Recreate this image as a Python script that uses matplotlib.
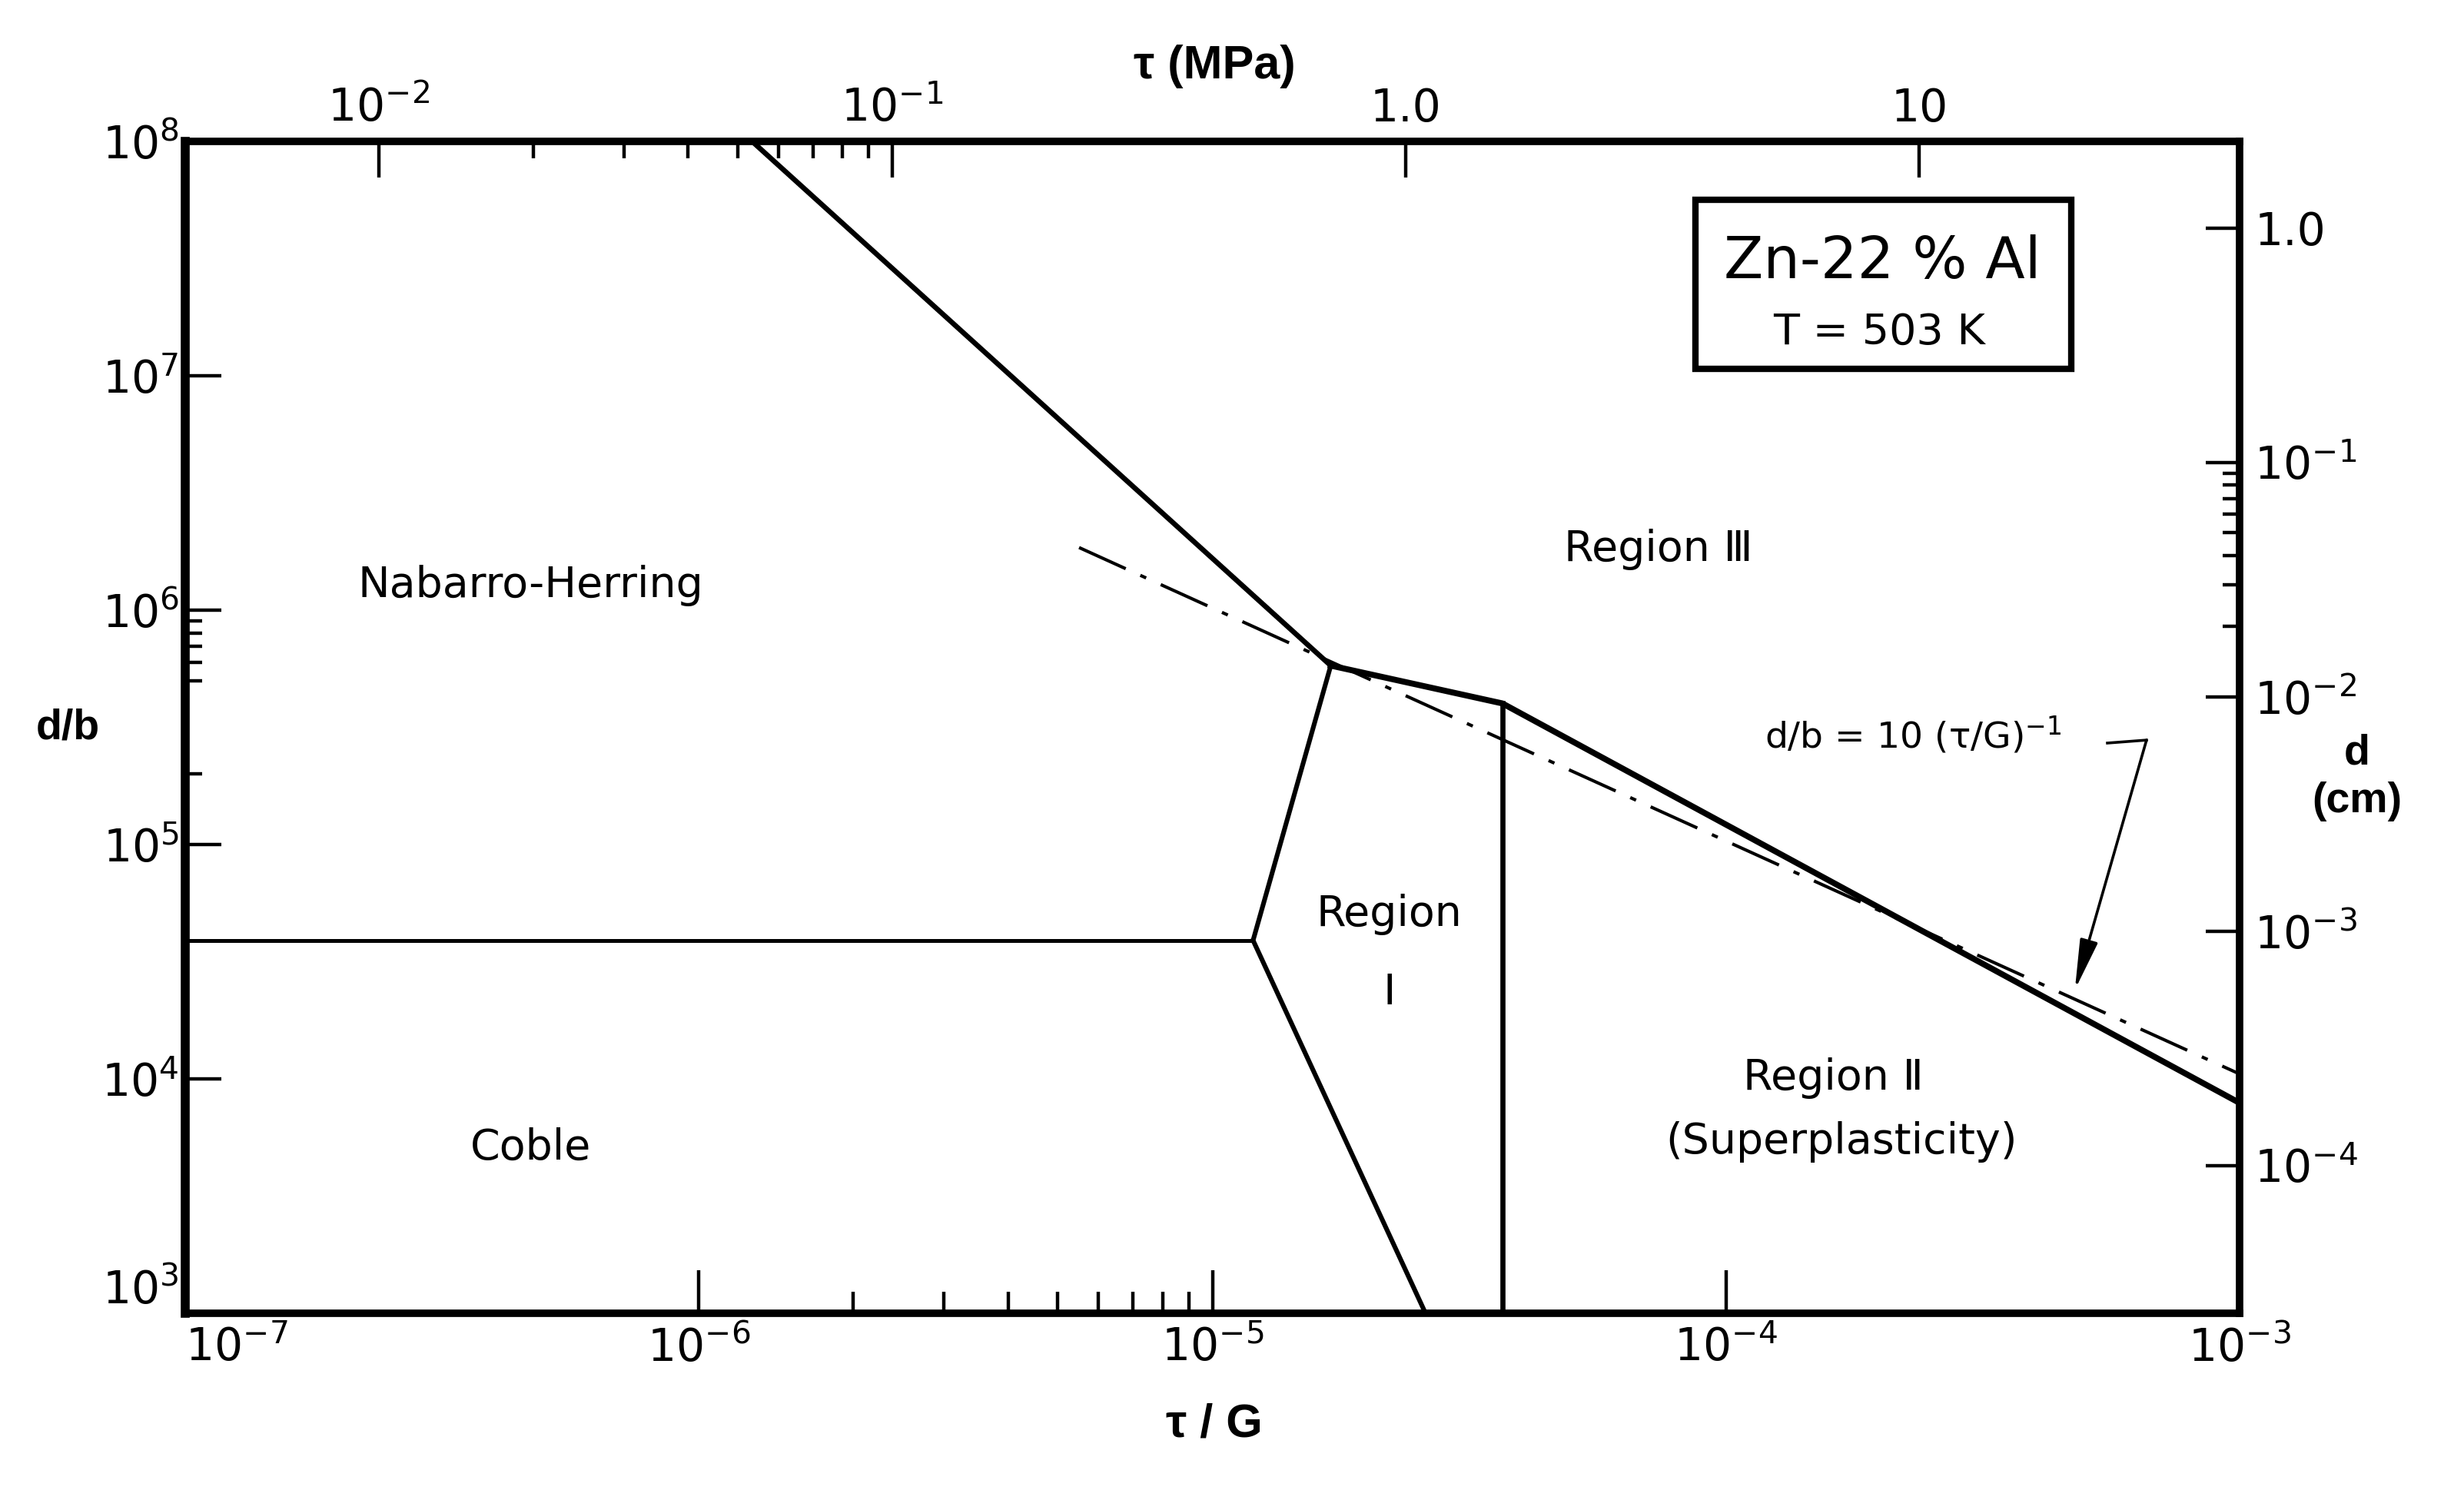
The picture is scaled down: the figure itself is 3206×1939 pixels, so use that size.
import numpy as np
import matplotlib
matplotlib.use('Agg')
import matplotlib.pyplot as plt
from matplotlib.patches import Rectangle

# %% Data: tau/G on x, d/b on y.
G_MPA = 4.2e4      # shear modulus used for the top scale, MPa
B_CM = 2.34e-8     # Burgers vector used for the right scale, cm

# Boundary lines:
nh_x = [1.27e-6, 1.7e-5]
nh_y = [1e8, 5.8e5]
r23_x = [1.7e-5, 3.67e-5, 1e-3]
r23_y = [5.8e5, 4.0e5, 7.9e3]
coble_x = [1e-7, 1.2e-5]
coble_y = [3.9e4, 3.9e4]
r1_left_x = [1.2e-5, 1.7e-5]
r1_left_y = [3.9e4, 5.8e5]
r1_low_x = [1.2e-5, 2.6e-5]
r1_low_y = [3.9e4, 1e3]
r12_x = [3.67e-5, 3.67e-5]
r12_y = [4.0e5, 1e3]
# d/b = 10 (tau/G)^-1 reference line:
ref_x = [5.5e-6, 1e-3]
ref_y = [1.85e6, 1.05e4]

# Region labels:
reg_text = ['Nabarro-Herring', 'Coble', 'Region \u2162', 'Region', '\u2160',
            'Region \u2161', '(Superplasticity)']
reg_x = [4.7e-7, 4.7e-7, 7.4e-5, 2.21e-5, 2.21e-5, 1.62e-4, 1.68e-4]
reg_y = [1.27e6, 5.06e3, 1.81e6, 5.04e4, 2.33e4, 1.01e4, 5.4e3]

# Ticks:
x_major = [1e-7, 1e-6, 1e-5, 1e-4, 1e-3]
x_labels = ['$10^{-7}$', '$10^{-6}$', '$10^{-5}$', '$10^{-4}$', '$10^{-3}$']
x_minor = [2e-6, 3e-6, 4e-6, 5e-6, 6e-6, 7e-6, 8e-6, 9e-6]
y_major = [1e3, 1e4, 1e5, 1e6, 1e7, 1e8]
y_labels = ['$10^{3}$', '$10^{4}$', '$10^{5}$', '$10^{6}$', '$10^{7}$', '$10^{8}$']
y_minor = [2e5, 5e5, 6e5, 7e5, 8e5, 9e5]
tau_major = [1e-2, 1e-1, 1.0, 10.0]
tau_labels = ['$10^{-2}$', '$10^{-1}$', '1.0', '10']
tau_minor = [2e-2, 3e-2, 4e-2, 5e-2, 6e-2, 7e-2, 8e-2, 9e-2]
d_major = [1.0, 1e-1, 1e-2, 1e-3, 1e-4]
d_labels = ['1.0', '$10^{-1}$', '$10^{-2}$', '$10^{-3}$', '$10^{-4}$']
d_minor = [2e-2, 3e-2, 4e-2, 5e-2, 6e-2, 7e-2, 8e-2, 9e-2]

# %% Figure.
plt.rcParams['font.family'] = ['DejaVu Sans']
plt.rcParams['mathtext.fontset'] = 'dejavusans'
fig = plt.figure(figsize=(16.03, 9.695), dpi=200)
ax = fig.add_axes([0.0752, 0.1186, 0.8337, 0.7865])
ax.set_xscale('log')
ax.set_yscale('log')
ax.set_xlim(1e-7, 1e-3)
ax.set_ylim(1e3, 1e8)

# Boundaries:
ax.plot(nh_x, nh_y, color='k', lw=2.4, solid_capstyle='round')
ax.plot(r23_x, r23_y, color='k', lw=2.8, solid_joinstyle='round')
ax.plot(coble_x, coble_y, color='k', lw=1.8)
ax.plot(r1_left_x, r1_left_y, color='k', lw=2.2)
ax.plot(r1_low_x, r1_low_y, color='k', lw=2.2)
ax.plot(r12_x, r12_y, color='k', lw=2.4)
ax.plot(ref_x, ref_y, color='k', lw=1.5, dashes=(16, 5, 2, 5))

# Region labels:
for t, x, y in zip(reg_text, reg_x, reg_y):
    ax.text(x, y, t, fontsize=20, ha='center', va='center')

# Annotation of the reference line:
ax.text(1.19e-4, 2.93e5, 'd/b = 10 (\u03c4/G)$^{-1}$', fontsize=17,
        ha='left', va='center')
ax.plot([5.53e-4, 6.59e-4], [2.71e5, 2.79e5], color='k', lw=1.3)
ax.annotate('', xy=(4.78e-4, 2.4e4), xytext=(6.59e-4, 2.79e5),
            arrowprops=dict(arrowstyle='-|>,head_length=1.0,head_width=0.18',
                            color='k', lw=1.3, mutation_scale=20,
                            shrinkA=0, shrinkB=0))

# Alloy box:
ax.add_patch(Rectangle((0.735, 0.806), 0.183, 0.144, transform=ax.transAxes,
                       fill=False, lw=3, ec='k'))
ax.text(0.826, 0.897, 'Zn-22 % Al', transform=ax.transAxes, fontsize=27,
        ha='center', va='center')
ax.text(0.8245, 0.837, 'T = 503 K', transform=ax.transAxes, fontsize=20,
        ha='center', va='center')

# Main axes ticks:
ax.set_xticks(x_major, labels=x_labels)
ax.set_xticks(x_minor, minor=True)
ax.set_yticks(y_major, labels=y_labels)
ax.set_yticks(y_minor, minor=True)
ax.tick_params(which='both', direction='in', width=1.6, labelsize=21)
ax.tick_params(axis='x', which='major', length=20, pad=6)
ax.tick_params(axis='x', which='minor', length=10)
ax.tick_params(axis='y', which='major', length=17, pad=3)
ax.tick_params(axis='y', which='minor', length=8)
for side in ['left', 'top', 'right', 'bottom']:
    ax.spines[side].set_linewidth(3.5)
ax.spines['left'].set_linewidth(4.2)
# Keep the corner labels apart:
ax.get_xticklabels()[0].set_ha('left')
ax.get_yticklabels()[0].set_va('bottom')

# Top scale (tau in MPa):
axt = ax.twiny()
axt.set_xscale('log')
axt.set_xlim(1e-7 * G_MPA, 1e-3 * G_MPA)
axt.set_xticks(tau_major, labels=tau_labels)
axt.set_xticks(tau_minor, minor=True)
axt.tick_params(which='both', direction='in', width=1.6, labelsize=21)
axt.tick_params(which='major', length=17, pad=5)
axt.tick_params(which='minor', length=8)
for s in axt.spines.values():
    s.set_visible(False)

# Right scale (d in cm):
axr = ax.twinx()
axr.set_yscale('log')
axr.set_ylim(1e3 * B_CM, 1e8 * B_CM)
axr.set_yticks(d_major, labels=d_labels)
axr.set_yticks(d_minor, minor=True)
axr.tick_params(which='both', direction='in', width=1.6, labelsize=21)
axr.tick_params(which='major', length=16, pad=7)
axr.tick_params(which='minor', length=8)
for s in axr.spines.values():
    s.set_visible(False)

# Axis titles:
fig.text(0.4928, 0.9556, '\u03c4 (MPa)', fontsize=22, fontweight='bold',
         family='Liberation Sans', ha='center', va='center')
fig.text(0.4928, 0.0438, '\u03c4 / G', fontsize=22, fontweight='bold',
         family='Liberation Sans', ha='center', va='center')
fig.text(0.0274, 0.5116, 'd/b', fontsize=20, fontweight='bold',
         family='Liberation Sans', ha='center', va='center')
fig.text(0.9566, 0.4941, 'd', fontsize=20, fontweight='bold',
         family='Liberation Sans', ha='center', va='center')
fig.text(0.9566, 0.4621, '(cm)', fontsize=20, fontweight='bold',
         family='Liberation Sans', ha='center', va='center')

fig.savefig('out.png', dpi=200, facecolor='white')
